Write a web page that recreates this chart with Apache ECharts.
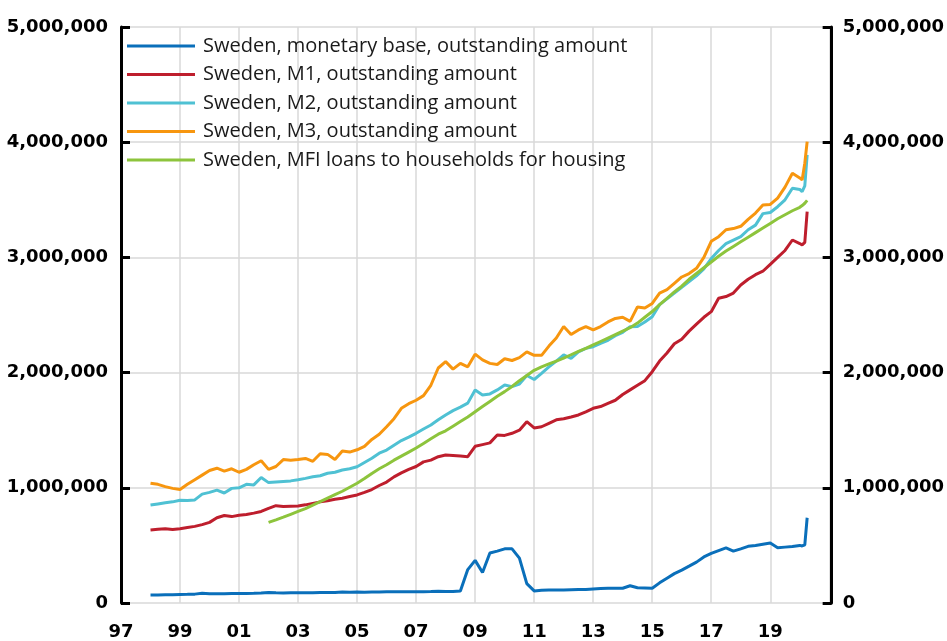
<!DOCTYPE html>
<html><head><meta charset="utf-8">
<script src="https://cdn.jsdelivr.net/npm/echarts@6/dist/echarts.min.js"></script>
<style>html,body{margin:0;padding:0;background:#fff}#c{width:947px;height:641px}</style>
</head><body><div id="c"></div><script>
const dates=[1998,1998.25,1998.5,1998.75,1999,1999.25,1999.5,1999.75,2000,2000.25,2000.5,2000.75,
2001,2001.25,2001.5,2001.75,2002,2002.25,2002.5,2002.75,2003,2003.25,2003.5,2003.75,
2004,2004.25,2004.5,2004.75,2005,2005.25,2005.5,2005.75,2006,2006.25,2006.5,2006.75,
2007,2007.25,2007.5,2007.75,2008,2008.25,2008.5,2008.75,2009,2009.25,2009.5,2009.75,
2010,2010.25,2010.5,2010.75,2011,2011.25,2011.5,2011.75,2012,2012.25,2012.5,2012.75,
2013,2013.25,2013.5,2013.75,2014,2014.25,2014.5,2014.75,2015,2015.25,2015.5,2015.75,
2016,2016.25,2016.5,2016.75,2017,2017.25,2017.5,2017.75,2018,2018.25,2018.5,2018.75,
2019,2019.25,2019.5,2019.75,2020,2020.08,2020.17,2020.25];

const seriesNames=['Sweden, monetary base, outstanding amount','Sweden, M1, outstanding amount','Sweden, M2, outstanding amount','Sweden, M3, outstanding amount','Sweden, MFI loans to households for housing'];

const monetaryBase=[70000,70000,72000,72000,74000,75000,77000,85000,80000,80000,81000,82000,
82000,83000,84000,86000,92000,88000,86000,88000,88000,90000,90000,91000,
92000,92000,95000,94000,95000,94000,95000,96000,97000,97000,98000,97000,
98000,98000,99000,101000,100000,100000,104000,290000,370000,265000,434000,450000,
470000,470000,390000,168000,105000,110000,112000,112000,113000,115000,117000,118000,
122000,125000,128000,128000,128000,150000,132000,130000,128000,175000,215000,255000,
286000,320000,355000,400000,430000,455000,478000,450000,470000,492000,500000,510000,
520000,480000,485000,490000,500000,495000,505000,740000];

const m1=[634000,640000,645000,638000,645000,655000,665000,680000,700000,740000,760000,750000,
762000,768000,780000,795000,822000,845000,838000,840000,842000,852000,865000,878000,
888000,900000,910000,925000,938000,960000,985000,1020000,1050000,1095000,1130000,1160000,
1185000,1225000,1240000,1270000,1285000,1280000,1275000,1270000,1360000,1375000,1390000,1458000,
1455000,1473000,1500000,1574000,1520000,1530000,1560000,1590000,1600000,1615000,1632000,1660000,
1690000,1705000,1733000,1760000,1810000,1850000,1890000,1930000,2008000,2100000,2170000,2250000,
2290000,2360000,2420000,2480000,2529000,2645000,2660000,2690000,2760000,2810000,2850000,2880000,
2940000,3000000,3060000,3151000,3120000,3108000,3130000,3397000];

const m2=[850000,860000,870000,878000,892000,890000,895000,945000,960000,980000,955000,995000,
1000000,1030000,1025000,1090000,1045000,1050000,1055000,1060000,1070000,1082000,1096000,1105000,
1126000,1135000,1154000,1165000,1183000,1220000,1256000,1300000,1328000,1370000,1410000,1440000,
1473000,1510000,1545000,1590000,1632000,1670000,1700000,1735000,1849000,1806000,1815000,1850000,
1892000,1878000,1900000,1975000,1940000,1994000,2050000,2100000,2153000,2124000,2180000,2210000,
2225000,2254000,2280000,2320000,2350000,2399000,2400000,2440000,2485000,2590000,2640000,2690000,
2740000,2790000,2840000,2900000,2990000,3060000,3120000,3150000,3180000,3240000,3280000,3380000,
3390000,3440000,3500000,3600000,3590000,3570000,3620000,3889000];

const m3=[1040000,1030000,1010000,995000,985000,1030000,1070000,1110000,1150000,1170000,1145000,1165000,
1135000,1160000,1200000,1235000,1160000,1185000,1245000,1240000,1245000,1255000,1230000,1295000,
1290000,1245000,1320000,1310000,1330000,1360000,1420000,1465000,1530000,1600000,1690000,1730000,
1760000,1800000,1890000,2040000,2095000,2030000,2080000,2050000,2160000,2110000,2080000,2070000,
2120000,2105000,2130000,2180000,2150000,2150000,2230000,2300000,2400000,2330000,2370000,2400000,
2370000,2400000,2440000,2470000,2480000,2445000,2570000,2560000,2600000,2690000,2720000,2775000,
2830000,2860000,2905000,3000000,3140000,3180000,3240000,3250000,3270000,3330000,3385000,3455000,
3460000,3515000,3610000,3730000,3690000,3672000,3817000,4005000];

const mfiLoans=[null,null,null,null,null,null,null,null,null,null,null,null,
null,null,null,null,700000,722000,745000,770000,795000,820000,850000,880000,
910000,940000,970000,1005000,1040000,1080000,1125000,1165000,1200000,1240000,1275000,1310000,
1345000,1385000,1425000,1465000,1495000,1535000,1575000,1615000,1660000,1705000,1750000,1795000,
1835000,1880000,1930000,1975000,2020000,2050000,2075000,2100000,2125000,2155000,2185000,2210000,
2240000,2270000,2300000,2330000,2360000,2390000,2430000,2480000,2530000,2590000,2645000,2700000,
2750000,2810000,2860000,2910000,2960000,3010000,3055000,3095000,3135000,3175000,3215000,3255000,
3295000,3335000,3370000,3405000,3435000,3450000,3470000,3495000];

const yTicks=[0,1000000,2000000,3000000,4000000,5000000];
const colors=['#0a6fba','#be1e2d','#4fc1d3','#f7960f','#8dc43c'];

const allValues=[monetaryBase,m1,m2,m3,mfiLoans];
const chart=echarts.init(document.getElementById('c'),null,{renderer:'canvas'});
const fmtY=v=>v.toLocaleString('en-US');
const axisFont={fontFamily:'DejaVu Sans',fontWeight:'bold',fontSize:18,color:'#000'};
const yBase={type:'value',min:yTicks[0],max:yTicks[yTicks.length-1],interval:yTicks[1]-yTicks[0],
  axisLine:{show:true,lineStyle:{color:'#000',width:3}},
  axisTick:{show:true,inside:true,length:9,lineStyle:{color:'#000',width:3}}};
chart.setOption({
  animation:false,
  backgroundColor:'#fff',
  color:colors,
  grid:{left:121,right:109,top:27,bottom:38,containLabel:false},
  legend:{orient:'vertical',left:127,top:36,padding:0,itemWidth:68,itemHeight:3,icon:'rect',itemGap:8.5,
    data:seriesNames,
    textStyle:{fontFamily:'Open Sans',fontSize:20,color:'#1a1a1a',lineHeight:20,padding:[0,0,0,3]}},
  xAxis:{type:'value',min:1997,max:2021.08,interval:2,
    axisLine:{show:false},axisTick:{show:false},
    splitLine:{show:true,lineStyle:{color:'#d9d9d9',width:1.5}},
    axisLabel:Object.assign({margin:20,showMaxLabel:false,
      formatter:v=>(Number.isInteger(v)&&v<2021)?String(v%100).padStart(2,'0'):''},axisFont)},
  yAxis:[
    Object.assign({},yBase,{position:'left',
      splitLine:{show:true,lineStyle:{color:'#d9d9d9',width:1.5}},
      axisLabel:Object.assign({margin:13,formatter:fmtY},axisFont)}),
    Object.assign({},yBase,{position:'right',splitLine:{show:false},
      axisLabel:Object.assign({margin:11,formatter:fmtY},axisFont)})
  ],
  series:seriesNames.map((n,k)=>({
    name:n,type:'line',showSymbol:false,symbol:'none',
    lineStyle:{width:3,color:colors[k]},itemStyle:{color:colors[k]},
    data:dates.map((d,i)=>[d,allValues[k][i]])
  }))
});
</script></body></html>
